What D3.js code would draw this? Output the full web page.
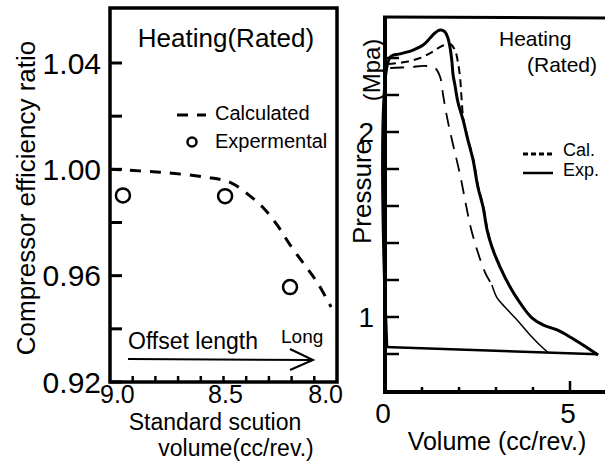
<!DOCTYPE html>
<html>
<head>
<meta charset="utf-8">
<script src="https://cdn.jsdelivr.net/npm/d3@7"></script>
<style>
  body { margin: 0; background: #fff; }
  text { font-family: "Liberation Sans", Arial, Helvetica, sans-serif; fill: #000; }
</style>
</head>
<body>
<div id="chart"></div>
<script>
// left panel: efficiency ratio vs standard suction volume
var effTicks = [0.92, 0.96, 1.00, 1.04];
var effMinor = [0.94, 0.98, 1.02];
var volTicks = [9.0, 8.5, 8.0];
var volMinor = [8.9, 8.8, 8.7, 8.6, 8.5, 8.4, 8.3, 8.2, 8.1];

var calcVol = [9.0, 8.78, 8.573, 8.471, 8.392, 8.322, 8.26, 8.203, 8.141, 8.088, 8.026];
var calcEff = [1.000, 0.9989, 0.997, 0.9951, 0.9906, 0.9853, 0.9786, 0.9711, 0.9639, 0.9576, 0.9482];
var expVol = [8.943, 8.493, 8.207];
var expEff = [0.9902, 0.9899, 0.9557];

// right panel: P-V diagram
var pTicks = [1, 2];
var pMinor = [0.8, 1.2, 1.4, 1.6, 1.8, 2.2, 2.4];
var vTicks = [0, 5];
var vMinor = [1, 2, 3, 4];

var pvExpV = [0.05, 0.14, 0.41, 0.76, 1.03, 1.22, 1.35, 1.49, 1.62, 1.70, 1.76, 1.81, 1.84, 1.89, 1.97,
  2.11, 2.24, 2.38, 2.51, 2.65, 2.76, 2.89, 3.11, 3.38, 3.65, 3.97, 4.27, 4.65, 5.00, 5.35, 5.76];
var pvExpP = [0.838, 2.405, 2.422, 2.443, 2.470, 2.508, 2.535, 2.551, 2.541, 2.508, 2.454, 2.378, 2.308, 2.254, 2.162,
  2.065, 1.957, 1.849, 1.703, 1.595, 1.470, 1.378, 1.270, 1.162, 1.076, 0.995, 0.957, 0.930, 0.892, 0.849, 0.795];

var pvCalV = [0.08, 0.54, 0.95, 1.27, 1.54, 1.76, 1.89, 1.97, 2.03, 2.07, 2.12, 2.25, 2.39, 2.52, 2.66,
  2.77, 2.90, 3.12, 3.39, 3.66, 3.98, 4.28, 4.66, 5.01, 5.36, 5.74];
var pvCalP = [2.368, 2.378, 2.400, 2.432, 2.465, 2.476, 2.443, 2.378, 2.292, 2.180, 2.065, 1.957, 1.849, 1.703, 1.595,
  1.470, 1.378, 1.270, 1.162, 1.076, 0.995, 0.957, 0.930, 0.892, 0.849, 0.798];

var pvInnerV = [0.14, 0.68, 1.08, 1.35, 1.49, 1.57, 1.68, 1.81, 2.03, 2.19, 2.32, 2.49, 2.70, 2.89];
var pvInnerP = [2.346, 2.351, 2.357, 2.346, 2.297, 2.200, 2.076, 1.957, 1.768, 1.605, 1.481, 1.362, 1.243, 1.173];
var pvInnerSolidV = [2.89, 3.03, 3.24, 3.57, 3.92, 4.24, 4.43];
var pvInnerSolidP = [1.173, 1.103, 1.054, 0.984, 0.903, 0.838, 0.805];

var suctionV = [0.0, 5.76];
var suctionP = [0.838, 0.798];

var svg = d3.select("#chart").append("svg")
  .attr("width", 605)
  .attr("height", 462);

function zipPts(xs, ys) {
  return xs.map(function(x, i) { return [x, ys[i]]; });
}

// ---------- left panel ----------
var xL = d3.scaleLinear().domain([9.0, 8.0]).range([110, 337]);
var yL = d3.scaleLinear().domain([0.92, 1.04]).range([382, 63]);

var left = svg.append("g");

left.append("rect")
  .attr("x", xL(9.0)).attr("y", 8)
  .attr("width", xL(8.0) - xL(9.0)).attr("height", yL(0.92) - 8)
  .attr("fill", "none").attr("stroke", "#000").attr("stroke-width", 3.5);

left.selectAll(".ytk").data(effTicks.concat(effMinor)).enter().append("line")
  .attr("x1", xL(9.0)).attr("x2", xL(9.0) + 12)
  .attr("y1", d => yL(d)).attr("y2", d => yL(d))
  .attr("stroke", "#000").attr("stroke-width", 3);

left.selectAll(".ylab").data(effTicks).enter().append("text")
  .attr("x", 101).attr("y", d => yL(d)).attr("dy", "0.36em")
  .attr("text-anchor", "end").style("font-size", "30px")
  .text(d => d.toFixed(2));

left.selectAll(".xtk").data(volMinor).enter().append("line")
  .attr("x1", d => xL(d)).attr("x2", d => xL(d))
  .attr("y1", yL(0.92)).attr("y2", yL(0.92) - 6)
  .attr("stroke", "#000").attr("stroke-width", 2.5);

left.selectAll(".xlab").data(volTicks).enter().append("text")
  .attr("x", d => xL(d) + (d === 9.0 ? -10 : d === 8.0 ? 6 : 2))
  .attr("y", 403)
  .attr("text-anchor", d => d === 9.0 ? "start" : d === 8.0 ? "end" : "middle")
  .style("font-size", "25px")
  .text(d => d.toFixed(1));

left.append("text").attr("x", 215).attr("y", 430).attr("text-anchor", "middle")
  .style("font-size", "23px").text("Standard scution");
left.append("text").attr("x", 236).attr("y", 456).attr("text-anchor", "middle")
  .style("font-size", "23px").text("volume(cc/rev.)");

left.append("text")
  .attr("transform", "translate(35,198) rotate(-90)")
  .attr("text-anchor", "middle").style("font-size", "26px")
  .text("Compressor efficiency ratio");

left.append("path")
  .datum(zipPts(calcVol, calcEff))
  .attr("d", d3.line().x(d => xL(d[0])).y(d => yL(d[1])).curve(d3.curveCatmullRom))
  .attr("fill", "none").attr("stroke", "#000").attr("stroke-width", 3)
  .attr("stroke-dasharray", "11,9");

left.selectAll(".exp").data(zipPts(expVol, expEff)).enter().append("circle")
  .attr("cx", d => xL(d[0])).attr("cy", d => yL(d[1])).attr("r", 7)
  .attr("fill", "none").attr("stroke", "#000").attr("stroke-width", 2.5);

left.append("text").attr("x", 226).attr("y", 47).attr("text-anchor", "middle")
  .style("font-size", "26px").text("Heating(Rated)");

left.append("line").attr("x1", 177).attr("x2", 206).attr("y1", 115).attr("y2", 115)
  .attr("stroke", "#000").attr("stroke-width", 3).attr("stroke-dasharray", "11,9");
left.append("text").attr("x", 215).attr("y", 120).style("font-size", "20px").text("Calculated");
left.append("circle").attr("cx", 192).attr("cy", 142).attr("r", 4.5)
  .attr("fill", "none").attr("stroke", "#000").attr("stroke-width", 2.5);
left.append("text").attr("x", 215).attr("y", 148).style("font-size", "20px").text("Expermental");

left.append("text").attr("x", 128).attr("y", 349).style("font-size", "23px").text("Offset length");
left.append("text").attr("x", 281).attr("y", 343).style("font-size", "19px").text("Long");
left.append("line").attr("x1", 128).attr("x2", 313).attr("y1", 359).attr("y2", 360)
  .attr("stroke", "#000").attr("stroke-width", 2);
left.append("path").attr("d", "M290,349 L313,360 L290,370")
  .attr("fill", "none").attr("stroke", "#000").attr("stroke-width", 2);

// ---------- right panel ----------
var xR = d3.scaleLinear().domain([0, 5]).range([385, 570]);
var yR = d3.scaleLinear().domain([1, 2]).range([317, 132]);

var right = svg.append("g");

right.append("line").attr("x1", xR(0)).attr("x2", xR(0)).attr("y1", 16).attr("y2", 394)
  .attr("stroke", "#000").attr("stroke-width", 4);
right.append("line").attr("x1", xR(0) - 2).attr("x2", 605).attr("y1", 392).attr("y2", 392)
  .attr("stroke", "#000").attr("stroke-width", 4);
right.append("line").attr("x1", xR(0) - 2).attr("x2", 605).attr("y1", 17).attr("y2", 18)
  .attr("stroke", "#000").attr("stroke-width", 3);

right.selectAll(".ytk").data(pTicks.concat(pMinor)).enter().append("line")
  .attr("x1", xR(0)).attr("x2", xR(0) + 14)
  .attr("y1", d => yR(d)).attr("y2", d => yR(d))
  .attr("stroke", "#000").attr("stroke-width", 2.5);

right.selectAll(".ylab").data(pTicks).enter().append("text")
  .attr("x", 374).attr("y", d => yR(d)).attr("dy", "0.36em")
  .attr("text-anchor", "end").style("font-size", "28px")
  .text(d => d);

right.selectAll(".xtk").data(vMinor.concat([5])).enter().append("line")
  .attr("x1", d => xR(d)).attr("x2", d => xR(d))
  .attr("y1", 392).attr("y2", d => d === 5 ? 381 : 387)
  .attr("stroke", "#000").attr("stroke-width", 2.5);

right.selectAll(".xlab").data(vTicks).enter().append("text")
  .attr("x", d => xR(d) - 2).attr("y", 423).attr("text-anchor", "middle")
  .style("font-size", "28px").text(d => d);

right.append("text").attr("x", 497).attr("y", 450).attr("text-anchor", "middle")
  .style("font-size", "25px").text("Volume (cc/rev.)");

right.append("text")
  .attr("transform", "translate(371,192) rotate(-90)")
  .attr("text-anchor", "middle").style("font-size", "26px").text("Pressure");
right.append("text")
  .attr("transform", "translate(380,70) rotate(-90)")
  .attr("text-anchor", "middle").style("font-size", "24px").text("(Mpa)");

var lineR = d3.line().x(d => xR(d[0])).y(d => yR(d[1])).curve(d3.curveCatmullRom);

right.append("path").datum(zipPts(suctionV, suctionP)).attr("d", lineR)
  .attr("fill", "none").attr("stroke", "#000").attr("stroke-width", 2.5);

right.append("path").datum(zipPts(pvInnerV, pvInnerP)).attr("d", lineR)
  .attr("fill", "none").attr("stroke", "#000").attr("stroke-width", 1.8)
  .attr("stroke-dasharray", "14,9");
right.append("path").datum(zipPts(pvInnerSolidV, pvInnerSolidP)).attr("d", lineR)
  .attr("fill", "none").attr("stroke", "#000").attr("stroke-width", 1.5);

right.append("path").datum(zipPts(pvCalV, pvCalP)).attr("d", lineR)
  .attr("fill", "none").attr("stroke", "#000").attr("stroke-width", 2)
  .attr("stroke-dasharray", "8,5");

right.append("path").datum(zipPts(pvExpV, pvExpP)).attr("d", lineR)
  .attr("fill", "none").attr("stroke", "#000").attr("stroke-width", 3);

right.append("text").attr("x", 499).attr("y", 46).style("font-size", "21px").text("Heating");
right.append("text").attr("x", 527).attr("y", 72).style("font-size", "21px").text("(Rated)");

right.append("line").attr("x1", 523).attr("x2", 552).attr("y1", 154).attr("y2", 154)
  .attr("stroke", "#000").attr("stroke-width", 3).attr("stroke-dasharray", "5,3");
right.append("text").attr("x", 563).attr("y", 156).style("font-size", "18px").text("Cal.");
right.append("line").attr("x1", 523).attr("x2", 553).attr("y1", 173).attr("y2", 173)
  .attr("stroke", "#000").attr("stroke-width", 2.5);
right.append("text").attr("x", 563).attr("y", 176).style("font-size", "18px").text("Exp.");
</script>
</body>
</html>
